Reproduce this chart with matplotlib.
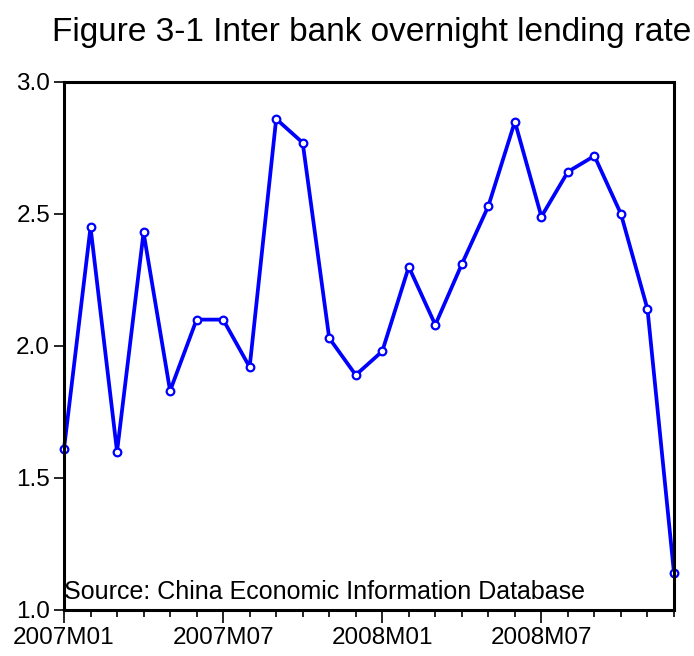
import matplotlib
matplotlib.use("Agg")
import matplotlib.pyplot as plt
import numpy as np

months = ["2007M01","2007M02","2007M03","2007M04","2007M05","2007M06","2007M07","2007M08",
          "2007M09","2007M10","2007M11","2007M12","2008M01","2008M02","2008M03","2008M04",
          "2008M05","2008M06","2008M07","2008M08","2008M09","2008M10","2008M11","2008M12"]
rates = [1.61, 2.45, 1.60, 2.43, 1.83, 2.10, 2.10, 1.92, 2.86, 2.77, 2.03, 1.89,
         1.98, 2.30, 2.08, 2.31, 2.53, 2.85, 2.49, 2.66, 2.72, 2.50, 2.14, 1.14]
major_labels = ["2007M01", "2007M07", "2008M01", "2008M07"]
y_ticks = [1.0, 1.5, 2.0, 2.5, 3.0]

plt.rcParams['font.family'] = ['Liberation Sans', 'DejaVu Sans']

fig = plt.figure(figsize=(6.94, 6.56), dpi=100)
ax = fig.add_axes([64/694, 1-610/656, 610/694, 528/656])

x = np.arange(len(months))
ax.plot(x, rates, color='#0000ff', lw=2.7, marker='o', ms=5.5,
        mfc='white', mec='#0000ff', mew=1.6, clip_on=False, zorder=1)

ax.set_xlim(0, len(months)-1)
ax.set_ylim(1.0, 3.0)
ax.set_yticks(y_ticks)
ax.set_yticklabels([f"{v:.1f}" for v in y_ticks])
maj = [months.index(m) for m in major_labels]
ax.set_xticks(maj)
ax.set_xticklabels(major_labels)
ax.set_xticks(x, minor=True)
ax.tick_params(axis='x', which='major', length=9, width=1.2, labelsize=17.5, pad=3)
ax.tick_params(axis='x', which='minor', length=5, width=1.2)
ax.tick_params(axis='y', which='major', length=7, width=1.2, labelsize=17.5, pad=3)
for s in ax.spines.values():
    s.set_linewidth(2.2)
    s.set_zorder(5)

ax.text(0.0, 0.012, "Source: China Economic Information Database", transform=ax.transAxes,
        fontsize=18, ha='left', va='bottom')

fig.text(372/694, 1-32/656, "Figure 3-1 Inter bank overnight lending rate", fontsize=24,
         ha='center', va='center')

fig.savefig("out.png", dpi=100)
